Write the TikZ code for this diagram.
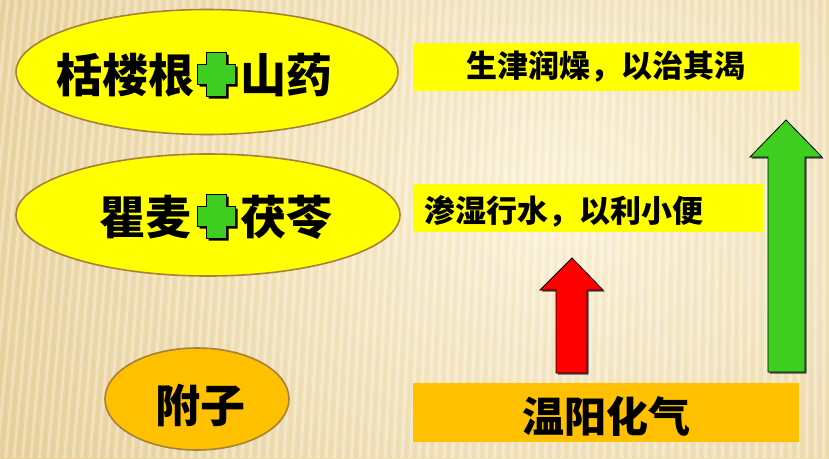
\documentclass[tikz,border=0pt]{standalone}
\usepackage{fontspec}
\newfontfamily\cjk{Noto Sans CJK SC}
\usetikzlibrary{shapes.geometric}

\definecolor{bgout}{HTML}{E7D09A}
\definecolor{bgin}{HTML}{FBF2D8}
\definecolor{rim}{HTML}{A8803A}
\definecolor{lemon}{HTML}{FFFF00}
\definecolor{amber}{HTML}{FFC000}
\definecolor{leaf}{HTML}{3ECE20}
\definecolor{fire}{HTML}{FF0000}

\tikzset{
  herb/.style={ellipse, draw=rim, line width=1.6pt, fill=lemon},
  herbtext/.style={inner sep=0pt, font=\cjk\bfseries\fontsize{46pt}{46pt}\selectfont},
  effect/.style={rectangle, fill=lemon, inner sep=0pt},
  effecttext/.style={font=\cjk\bfseries\fontsize{31pt}{31pt}\selectfont},
  bigarrow/.style={draw=black, line width=0.8pt, line join=miter},
  pics/greenplus/.style={code={
    \def\pluspath{(-10,-22) -- (10,-22) -- (10,-10) -- (19,-10) -- (19,10) -- (10,10)
      -- (10,22) -- (-10,22) -- (-10,10) -- (-19,10) -- (-19,-10) -- (-10,-10) -- cycle}
    \fill[black, shift={(2.5,2.5)}] \pluspath;
    \filldraw[fill=leaf, draw=black, line width=0.7pt] \pluspath;
  }}
}

\begin{document}
\begin{tikzpicture}[x=1pt, y=-1pt]
  % canvas and ribbed background, ribs leaning more towards the left edge
  \useasboundingbox (0,0) rectangle (829,458);
  \begin{scope}
    \clip (0,0) rectangle (829,458);
    \shade[inner color=bgin, outer color=bgout] (-60,-300) rectangle (1180,700);
    \foreach \x in {0,8,...,880} {
      \pgfmathsetmacro\lean{45*(1-\x/829)}
      \draw[white, opacity=0.32, line width=3pt] (\x,0) -- (\x-\lean,458);
      \draw[bgout!80!brown, opacity=0.10, line width=1.2pt] (\x+4,0) -- (\x+4-\lean,458);
    }
  \end{scope}

  % herb pairs
  \node[herb, minimum width=382pt, minimum height=125pt] (e1) at (207,72) {};
  \node[herb, minimum width=384pt, minimum height=122pt] (e2) at (208,215) {};
  \node[herb, fill=amber, minimum width=184pt, minimum height=102pt] (e3) at (197,399) {};

  \node[herbtext, anchor=east] (h1a) at (195,75) {栝楼根};
  \pic (p1) at (216,74) {greenplus};
  \node[herbtext, anchor=west] (h1b) at (240,75) {山药};

  \node[herbtext, anchor=east] (h2a) at (192,217) {瞿麦};
  \pic (p2) at (216,216) {greenplus};
  \node[herbtext, anchor=west] (h2b) at (240,217) {茯苓};

  \node[herbtext, font=\cjk\bfseries\fontsize{45pt}{45pt}\selectfont] (h3) at (200,405) {附子};

  % effects
  \node[effect, minimum width=386pt, minimum height=48pt] (b1) at (606,67) {};
  \node[effecttext] (t1) at (b1) {生津润燥，以治其渴};

  \node[effect, minimum width=350pt, minimum height=48pt, anchor=west] (b2) at (413,208) {};
  \node[effecttext, anchor=west, inner sep=0pt] (t2) at (424,211) {渗湿行水，以利小便};

  \node[effect, fill=amber, minimum width=386pt, minimum height=59pt] (b3) at (606,412) {};
  \node[herbtext, font=\cjk\bfseries\fontsize{42pt}{42pt}\selectfont] (t3) at (606,416) {温阳化气};

  % upward arrows
  \fill[black!70, shift={(1.5,1.5)}] (572,258) -- (603,290) -- (587,290) -- (587,373) -- (556,373) -- (556,290) -- (540,290) -- cycle;
  \filldraw[bigarrow, fill=fire] (572,258) -- (603,290) -- (587,290) -- (587,373) -- (556,373) -- (556,290) -- (540,290) -- cycle;

  \fill[black!70, shift={(1.5,1.5)}] (786,120) -- (822,157) -- (805,157) -- (805,372) -- (768,372) -- (768,157) -- (750,157) -- cycle;
  \filldraw[bigarrow, fill=leaf] (786,120) -- (822,157) -- (805,157) -- (805,372) -- (768,372) -- (768,157) -- (750,157) -- cycle;
\end{tikzpicture}
\end{document}
